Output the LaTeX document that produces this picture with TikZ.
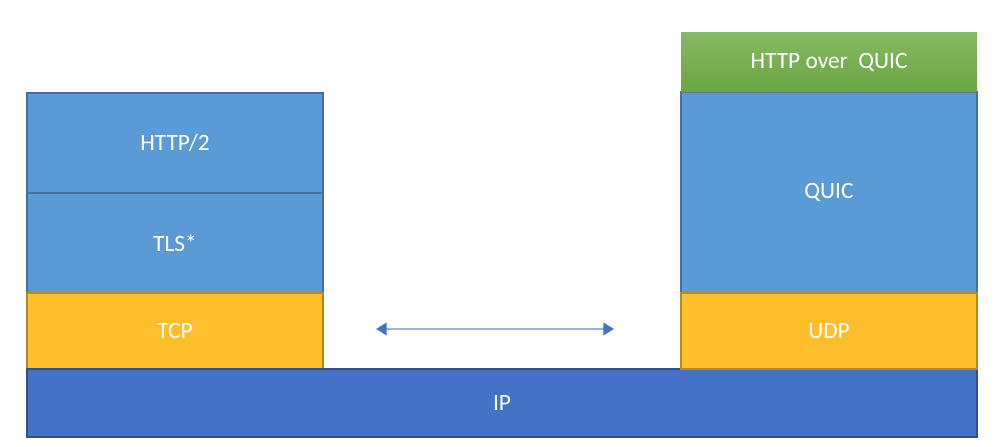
\documentclass[tikz,border=0pt]{standalone}
\usepackage{fontspec}
\setmainfont{Carlito}
\usetikzlibrary{arrows.meta,shadows}
\definecolor{layerblue}{HTML}{5B9BD5}
\definecolor{layerblueline}{HTML}{41719C}
\definecolor{layeryellow}{HTML}{FFBF2D}
\definecolor{layeryellowline}{HTML}{B8891F}
\definecolor{ipblue}{HTML}{4472C4}
\definecolor{ipblueline}{HTML}{2F528F}
\definecolor{appgreen}{HTML}{70AD47}
\begin{document}
\begin{tikzpicture}[layer/.style={draw=layerblueline,fill=layerblue,line width=1pt,
          minimum width=5.92cm,text=white,font=\fontsize{13.3}{15}\selectfont,inner sep=0pt},
      transport/.style={layer,draw=layeryellowline,fill=layeryellow,minimum height=1.52cm}]
      \useasboundingbox (0,0) rectangle (20.16,8.92);
      \node[layer,minimum height=2cm] (http2) at (3.5,6.06) {HTTP/2};
      \node[layer,minimum height=2cm] (tls) at (3.5,4.06) {TLS*};
      \node[transport] (tcp) at (3.5,2.3) {TCP};
      \node[layer,draw=ipblueline,fill=ipblue,minimum width=19cm,
           minimum height=1.36cm] (ip) at (10.04,0.86) {IP};
      \node[layer,minimum height=4.02cm] (quic) at (16.58,5.07) {QUIC};
      \node[transport] (udp) at (16.58,2.3) {UDP};
      \node[layer,draw=none,top color=appgreen!85!white,bottom color=appgreen!95!black,
           drop shadow={opacity=.35,shadow xshift=0pt,shadow yshift=-1.5pt},
           minimum height=1.18cm] (hoq) at (16.58,7.67) {HTTP over\ \ QUIC};
      \coordinate (l) at (7.52,2.34);
      \coordinate (r) at (12.28,2.34);
      \draw[{Triangle[length=6pt,width=7pt,color=ipblue]}-{Triangle[length=6pt,width=7pt,color=ipblue]},
           ipblue!55,line width=1.2pt] (l) -- (r);
  \end{tikzpicture}
\end{document}
